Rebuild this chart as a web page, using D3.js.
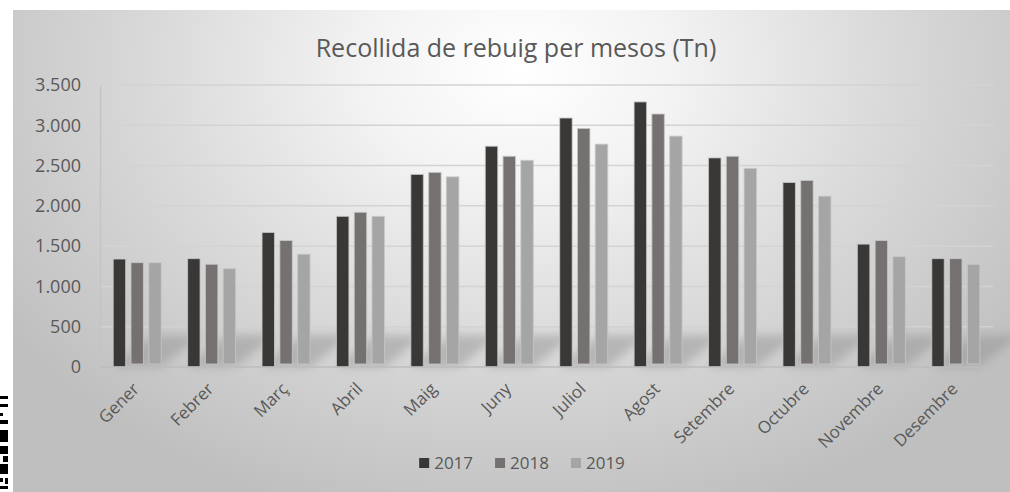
<!DOCTYPE html>
<html>
<head>
<meta charset="utf-8">
<script src="https://cdn.jsdelivr.net/npm/d3@7"></script>
<style>
  body { margin: 0; background: #fff; }
  text { font-family: "Open Sans", sans-serif; fill: #595959; }
</style>
</head>
<body>
<div id="chart"></div>
<script>
// data
var months = ["Gener", "Febrer", "Març", "Abril", "Maig", "Juny", "Juliol", "Agost", "Setembre", "Octubre", "Novembre", "Desembre"];
var years = ["2017", "2018", "2019"];
var v2017 = [1340, 1345, 1670, 1870, 2390, 2740, 3090, 3290, 2595, 2290, 1525, 1345];
var v2018 = [1295, 1275, 1570, 1920, 2415, 2615, 2960, 3140, 2615, 2315, 1570, 1345];
var v2019 = [1295, 1220, 1400, 1870, 2360, 2565, 2765, 2865, 2465, 2120, 1370, 1275];
var yTicks = [0, 500, 1000, 1500, 2000, 2500, 3000, 3500];
var colors = ["#3a3836", "#767171", "#a5a5a5"];

var series = [v2017, v2018, v2019];

var svgWidth = 1010, svgHeight = 492;
var margin = { top: 85, bottom: 125, left: 100, right: 17 };
var width = svgWidth - margin.left - margin.right;
var height = svgHeight - margin.top - margin.bottom;

var svg = d3.select("#chart")
    .append("svg")
    .attr("width", svgWidth)
    .attr("height", svgHeight);

// background gradient
var defs = svg.append("defs");
var grad = defs.append("radialGradient")
    .attr("id", "bg")
    .attr("gradientUnits", "userSpaceOnUse")
    .attr("cx", 520).attr("cy", 70).attr("r", 620)
    .attr("gradientTransform", "translate(520,70) scale(1,0.75) translate(-520,-70)");
grad.append("stop").attr("offset", "0%").attr("stop-color", "#ffffff");
grad.append("stop").attr("offset", "25%").attr("stop-color", "#f3f3f3");
grad.append("stop").attr("offset", "60%").attr("stop-color", "#d9d9d9");
grad.append("stop").attr("offset", "100%").attr("stop-color", "#bfbfbf");

var blur = defs.append("filter").attr("id", "blur")
    .attr("x", "-50%").attr("y", "-50%").attr("width", "200%").attr("height", "200%");
blur.append("feGaussianBlur").attr("stdDeviation", 5);

svg.append("rect")
    .attr("x", 13).attr("y", 10)
    .attr("width", svgWidth - 13).attr("height", svgHeight - 10)
    .attr("fill", "url(#bg)");

// stray marks at the left edge of the picture
var stray = [[0, 396, 8, 3], [0, 404, 8, 3], [0, 413, 3, 3], [0, 420, 8, 4], [0, 430, 8, 12], [0, 446, 8, 8], [3, 456, 5, 6], [0, 464, 8, 10], [0, 478, 3, 4], [5, 478, 3, 6], [0, 486, 8, 3]];
svg.append("g").selectAll("rect")
    .data(stray)
    .enter()
    .append("rect")
    .attr("x", d => d[0]).attr("y", d => d[1])
    .attr("width", d => d[2]).attr("height", d => d[3])
    .attr("fill", "#000");

var chartGroup = svg.append("g")
    .attr("transform", `translate(${margin.left}, ${margin.top})`);

// scales
var x0 = d3.scaleBand()
    .domain(months)
    .range([0, width]);

var x1 = d3.scaleBand()
    .domain(years)
    .range([-24, 24])
    .paddingInner(0.3);

var y = d3.scaleLinear()
    .domain([0, 3500])
    .range([height, 0]);

// gridlines
chartGroup.append("g").selectAll("line")
    .data(yTicks.slice(1))
    .enter()
    .append("line")
    .attr("x1", 0).attr("x2", width)
    .attr("y1", d => y(d)).attr("y2", d => y(d))
    .attr("stroke", "#d3d3d3")
    .attr("stroke-width", 1.5);

// y axis
var yAxis = d3.axisLeft(y)
    .tickValues(yTicks)
    .tickSize(0)
    .tickPadding(19)
    .tickFormat(d => d3.format(",")(d).replace(",", "."));

var yG = chartGroup.append("g").call(yAxis);
yG.select(".domain").attr("stroke", "#c4c4c4").attr("stroke-width", 1.5);
yG.selectAll("text")
    .attr("font-family", "Open Sans")
    .attr("font-size", "18px")
    .attr("fill", "#505050");

// shadows at the foot of each group
chartGroup.append("g").selectAll("path")
    .data(months)
    .enter()
    .append("path")
    .attr("d", function(m) {
        var cx = x0(m) + x0.bandwidth() / 2;
        var l = cx + x1("2017"), r = cx + x1("2019") + x1.bandwidth();
        return `M${l},${height} L${r},${height} L${r + 40},${height - 32} L${l + 40},${height - 32} Z`;
    })
    .attr("fill", "#8c8c8c")
    .attr("opacity", 0.45)
    .attr("filter", "url(#blur)");

// bars
years.forEach(function(yr, i) {
    var lift = i === 0 ? 0 : 3;
    chartGroup.append("g").selectAll("rect")
        .data(series[i])
        .enter()
        .append("rect")
        .attr("x", (d, j) => x0(months[j]) + x0.bandwidth() / 2 + x1(yr))
        .attr("y", d => y(d))
        .attr("width", x1.bandwidth())
        .attr("height", d => y(0) - lift - y(d))
        .attr("fill", colors[i])
        .attr("stroke", "#c8c8c8")
        .attr("stroke-opacity", 0.8)
        .attr("stroke-width", 1);
});

// baseline
chartGroup.append("line")
    .attr("x1", 0).attr("x2", width)
    .attr("y1", height).attr("y2", height)
    .attr("stroke", "#bcbcbc")
    .attr("stroke-width", 1.5);

// month labels
chartGroup.append("g").selectAll("text")
    .data(months)
    .enter()
    .append("text")
    .attr("transform", d => `translate(${x0(d) + x0.bandwidth() / 2 + 3}, ${height + 23}) rotate(-45)`)
    .attr("text-anchor", "end")
    .attr("font-size", "17px")
    .attr("fill", "#505050")
    .text(d => d);

// title
svg.append("text")
    .attr("x", 516)
    .attr("y", 57)
    .attr("text-anchor", "middle")
    .attr("font-size", "25px")
    .attr("fill", "#404040")
    .text("Recollida de rebuig per mesos (Tn)");

// legend
var legend = svg.append("g");
var lx = 0;
years.forEach(function(yr, i) {
    var item = legend.append("g").attr("transform", `translate(${lx}, 0)`);
    item.append("rect")
        .attr("x", 0).attr("y", -11)
        .attr("width", 10).attr("height", 10)
        .attr("fill", colors[i]);
    var t = item.append("text")
        .attr("x", 15).attr("y", 0)
        .attr("font-size", "17px")
        .attr("fill", "#505050")
        .text(yr);
    lx += 15 + t.node().getComputedTextLength() + 22;
});
lx -= 22;
legend.attr("transform", `translate(${522 - lx / 2}, 469)`);
</script>
</body>
</html>
